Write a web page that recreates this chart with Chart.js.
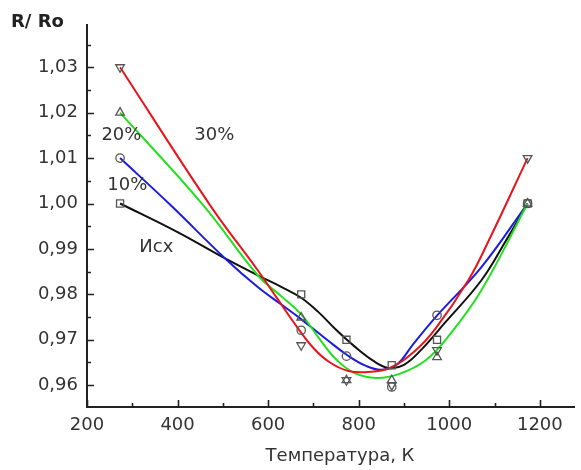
<!DOCTYPE html>
<html>
<head>
<meta charset="utf-8">
<script src="https://cdn.jsdelivr.net/npm/chart.js@4"></script>
<style>
  body { margin: 0; background: #fff; }
  #wrap { width: 581px; height: 470px; }
</style>
</head>
<body>
<div id="wrap"><canvas id="myChart" width="581" height="470"></canvas></div>
<script>
// measured points (temperature, K)
var temps = [273, 673, 773, 873, 973, 1173];
var isxPts  = [1.000, 0.980, 0.970, 0.9644, 0.970, 1.000];
var p10Pts  = [1.010, 0.9721, 0.9664, 0.9596, 0.9754, 1.000];
var p20Pts  = [1.020, 0.9749, 0.9611, 0.9611, 0.9662, 1.000];
var p30Pts  = [1.030, 0.9688, 0.9611, 0.9600, 0.9677, 1.010];

// smoothed curves, each with its own temperatures
var isxFitT = [273, 400, 505, 577, 630, 672, 710, 750, 790, 830, 865, 900, 940, 990, 1071, 1125, 1173];
var isxFit  = [1.000, 0.9937, 0.9879, 0.9842, 0.9816, 0.9793, 0.9762, 0.9722, 0.9686, 0.9655, 0.9638, 0.9645, 0.9680, 0.9737, 0.9831, 0.9918, 1.000];
var p10FitT = [273, 385, 505, 577, 630, 672, 730, 775, 815, 850, 885, 920, 970, 1071, 1173];
var p10Fit  = [1.010, 0.9996, 0.9879, 0.9816, 0.9777, 0.9746, 0.9700, 0.9666, 0.9643, 0.9634, 0.9646, 0.9690, 0.9750, 0.9860, 1.000];
var p20FitT = [273, 457, 577, 630, 672, 715, 750, 790, 839, 890, 948, 1000, 1071, 1173];
var p20Fit  = [1.020, 0.9996, 0.9842, 0.9795, 0.9757, 0.9700, 0.9657, 0.9627, 0.9616, 0.9625, 0.9655, 0.9710, 0.9809, 1.000];
var p30FitT = [273, 472, 577, 620, 664, 700, 735, 775, 820, 869, 926, 970, 1042, 1087, 1173];
var p30Fit  = [1.030, 0.9996, 0.9853, 0.9791, 0.9728, 0.9682, 0.9651, 0.9632, 0.9629, 0.9638, 0.9677, 0.9725, 0.9831, 0.9918, 1.010];

var xMajor = [200, 400, 600, 800, 1000, 1200];
var xMinor = [300, 500, 700, 900, 1100];
var yMajor = [0.96, 0.97, 0.98, 0.99, 1.00, 1.01, 1.02, 1.03];
var yMinor = [0.965, 0.975, 0.985, 0.995, 1.005, 1.015, 1.025, 1.035];

// curve labels: [text, T, value]
var curveLabels = [['30%', 481, 1.015], ['20%', 276, 1.015], ['10%', 289, 1.004], ['Исх', 353, 0.9904]];

var FONT = '"DejaVu Sans", sans-serif';
var markColor = '#555';

function pts(xs, ys) {
    return xs.map(function(t, i) { return {x: t, y: ys[i]}; });
}

function markerSet(data, style, rot, r) {
    return {
        type: 'scatter',
        data: pts(temps, data),
        showLine: false,
        pointStyle: style,
        rotation: rot,
        pointRadius: r,
        pointBorderColor: markColor,
        pointBackgroundColor: 'rgba(0,0,0,0)',
        pointBorderWidth: 1.3
    };
}

function curveSet(xs, data, color) {
    return {
        type: 'line',
        data: pts(xs, data),
        borderColor: color,
        borderWidth: 2,
        pointRadius: 0,
        fill: false,
        tension: 0.4
    };
}

// ticks pointing inwards, plus texts
var decorPlugin = {
    id: 'decor',
    afterDraw: function(chart) {
        var ctx = chart.ctx, sx = chart.scales.x, sy = chart.scales.y;
        var area = chart.chartArea;
        ctx.save();
        ctx.strokeStyle = '#222';
        ctx.lineWidth = 1.6;
        ctx.beginPath();
        xMajor.forEach(function(v) {
            var px = Math.round(sx.getPixelForValue(v)) + 0.5;
            ctx.moveTo(px, area.bottom); ctx.lineTo(px, area.bottom - 7);
        });
        xMinor.forEach(function(v) {
            var px = Math.round(sx.getPixelForValue(v)) + 0.5;
            ctx.moveTo(px, area.bottom); ctx.lineTo(px, area.bottom - 4);
        });
        yMajor.forEach(function(v) {
            var py = Math.round(sy.getPixelForValue(v)) + 0.5;
            ctx.moveTo(area.left, py); ctx.lineTo(area.left + 7, py);
        });
        yMinor.forEach(function(v) {
            var py = Math.round(sy.getPixelForValue(v)) + 0.5;
            ctx.moveTo(area.left, py); ctx.lineTo(area.left + 4, py);
        });
        ctx.stroke();

        ctx.fillStyle = '#333';
        ctx.textAlign = 'center';
        ctx.textBaseline = 'middle';
        ctx.font = '18px ' + FONT;
        curveLabels.forEach(function(l) {
            ctx.fillText(l[0], sx.getPixelForValue(l[1]), sy.getPixelForValue(l[2]));
        });

        ctx.fillText('Температура, К', 340, 456);

        ctx.fillStyle = '#222';
        ctx.font = 'bold 18px ' + FONT;
        ctx.textAlign = 'left';
        ctx.fillText('R/ Ro', 11, 22);
        ctx.restore();
    }
};

var ctx1 = document.getElementById('myChart').getContext('2d');
var myChart = new Chart(ctx1, {
    data: {
        datasets: [
            markerSet(isxPts, 'rect', 0, 5),
            markerSet(p10Pts, 'circle', 0, 4.2),
            markerSet(p20Pts, 'triangle', 0, 5),
            markerSet(p30Pts, 'triangle', 180, 5),
            curveSet(p30FitT, p30Fit, '#e8141b'),
            curveSet(p20FitT, p20Fit, '#22e01e'),
            curveSet(p10FitT, p10Fit, '#1c1ce0'),
            curveSet(isxFitT, isxFit, '#111111')
        ]
    },
    options: {
        responsive: false,
        animation: false,
        layout: { padding: { top: 25, right: 0, left: 0, bottom: 0 } },
        plugins: {
            legend: { display: false },
            tooltip: { enabled: false }
        },
        scales: {
            x: {
                type: 'linear',
                min: 200,
                max: 1277,
                afterFit: function(scale) { scale.height = 63; },
                ticks: {
                    stepSize: 200,
                    includeBounds: false,
                    padding: 8,
                    maxRotation: 0,
                    color: '#333',
                    font: { family: FONT, size: 18 },
                    callback: function(v) { return v <= 1200 ? String(v) : ''; }
                },
                grid: { drawOnChartArea: false, drawTicks: false },
                border: { display: true, color: '#222', width: 2 }
            },
            y: {
                type: 'linear',
                min: 0.9552,
                max: 1.0393,
                afterFit: function(scale) { scale.width = 87; },
                ticks: {
                    stepSize: 0.01,
                    includeBounds: false,
                    padding: 9,
                    color: '#333',
                    font: { family: FONT, size: 18 },
                    callback: function(v) { return v.toFixed(2).replace('.', ','); }
                },
                grid: { drawOnChartArea: false, drawTicks: false },
                border: { display: true, color: '#222', width: 2 }
            }
        }
    },
    plugins: [decorPlugin]
});
</script>
</body>
</html>
